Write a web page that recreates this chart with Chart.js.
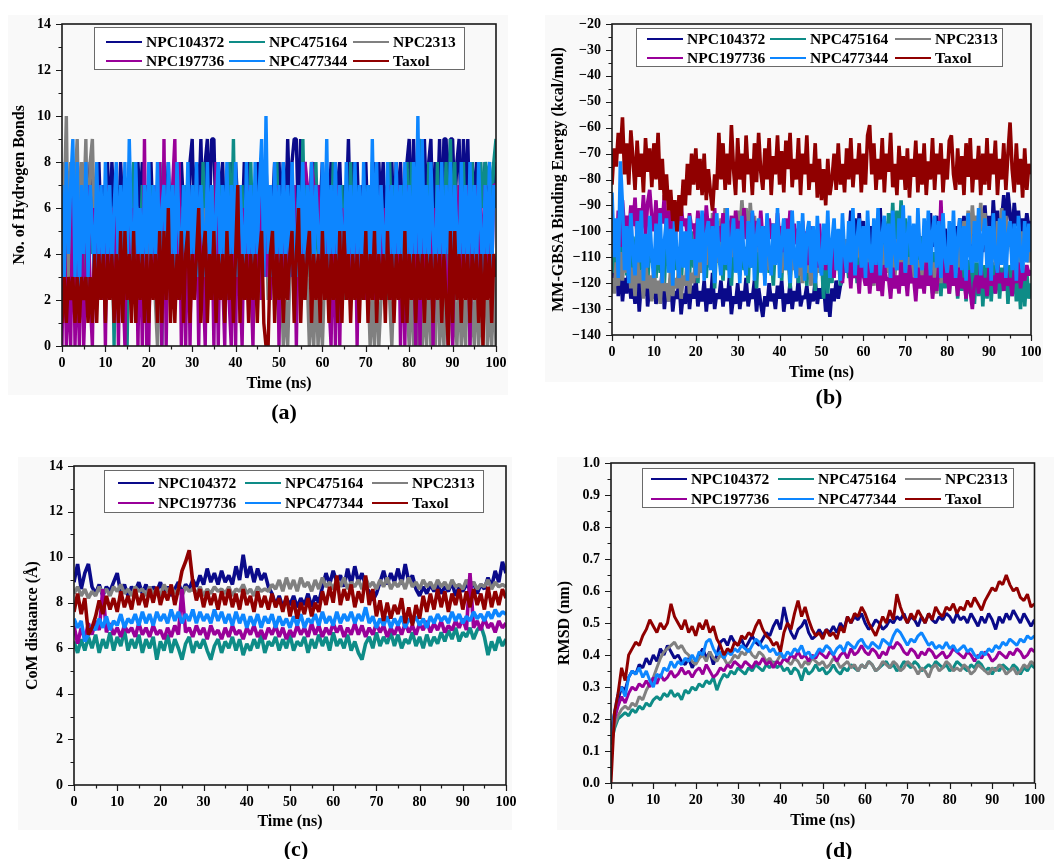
<!DOCTYPE html>
<html>
<head>
<meta charset="utf-8">
<script src="https://cdn.jsdelivr.net/npm/chart.js@4.4.0/dist/chart.umd.min.js"></script>
<style>
body { margin: 0; background: #fff; width: 1054px; height: 859px; position: relative; overflow: hidden; }
canvas, .bg { position: absolute; }
.bg { background: #f9f9f9; }
.tag { position: absolute; font: bold 22px "Liberation Serif", "Times New Roman", serif; transform: translate(-50%, -50%); color: #000; }
</style>
</head>
<body>
<div class="bg" style="left:8px;top:15px;width:500px;height:380px"></div>
<div class="bg" style="left:545px;top:15px;width:498px;height:367px"></div>
<div class="bg" style="left:18px;top:457px;width:494px;height:373px"></div>
<div class="bg" style="left:557px;top:457px;width:497px;height:373px"></div>
<canvas id="hbond" width="530" height="420" style="left:0;top:0"></canvas>
<canvas id="energy" width="524" height="420" style="left:530px;top:0"></canvas>
<canvas id="com" width="530" height="439" style="left:0;top:420px"></canvas>
<canvas id="rmsd" width="524" height="439" style="left:530px;top:420px"></canvas>
<div class="tag" style="left:284px;top:412px">(a)</div>
<div class="tag" style="left:829px;top:397px">(b)</div>
<div class="tag" style="left:296px;top:849px">(c)</div>
<div class="tag" style="left:839px;top:850px">(d)</div>
<script>
var compounds = ['NPC104372', 'NPC475164', 'NPC2313', 'NPC197736', 'NPC477344', 'Taxol'];
var colors = ['#0a0a8a', '#0e8c87', '#808080', '#990099', '#0d86ff', '#900000'];

// (a) number of hydrogen bonds, every 0.5 ns
var hb104372 = [6,8,5,7,6,8,5,7,6,8,5,7,6,8,5,7,6,8,5,7, 6,8,5,8,6,7,5,8,6,7,5,8,6,7,5,8,6,8,5,7, 6,8,5,7,6,8,5,7,6,8,5,7,6,8,5,8,6,7,5,8, 9,5,8,6,9,5,8,9,6,9,9,5,8,6,8,5,7,6,8,5, 8,6,7,5,8,6,8,5,7,6,8,5,7,6,8,5,7,6,8,5, 8,6,8,5,9,6,8,9,9,5,9,6,8,5,7,6,8,5,7,6, 8,5,7,6,8,5,8,6,8,5,7,6,9,5,8,6,8,5,7,6, 8,5,7,6,8,5,8,6,8,5,7,6,8,5,8,6,8,5,7,8, 9,5,9,6,8,9,5,9,6,8,9,5,8,6,9,5,9,9,6,9, 9,6,8,9,5,9,6,9,5,8,6,8,5,7,6,8,5,7,6,8,7];
var hb475164 = [4,7,2,6,3,8,2,6,4,7,3,6,2,7,4,6,3,7,2,6, 4,7,3,6,0,7,3,6,4,7,0,6,3,8,2,6,4,7,3,6, 2,7,4,6,3,8,0,6,4,7,2,6,3,7,4,6,3,7,2,6, 4,7,3,6,2,8,4,6,3,7,2,6,4,7,3,6,2,8,4,9, 3,6,4,7,2,6,3,8,4,6,3,7,2,6,4,7,3,6,2,8, 4,6,3,7,2,6,4,7,3,6,2,9,4,7,3,6,2,8,4,6, 3,7,2,6,4,8,3,6,4,7,2,6,3,8,4,6,3,7,2,6, 4,7,3,8,2,6,4,7,3,6,2,8,4,7,3,6,2,7,4,8, 3,8,2,6,4,9,3,7,2,8,4,6,3,8,2,7,4,8,3,9, 4,8,2,7,3,8,4,7,3,8,2,7,4,8,6,8,7,8,6,8,9];
var hb2313 = [8,6,10,3,8,2,7,9,4,8,6,9,3,8,9,5,7,3,6,2, 5,3,6,2,5,3,6,2,5,3,6,2,5,3,6,2,5,3,6,2, 5,3,6,2,0,3,6,2,5,3,6,2,5,3,6,2,5,3,6,2, 5,3,6,2,5,3,6,2,5,3,6,2,5,3,6,2,5,3,6,2, 5,3,6,2,5,3,6,2,5,3,6,2,5,3,6,2,5,3,6,2, 5,3,0,2,0,3,6,2,5,3,6,2,5,3,0,2,0,3,0,2, 0,3,6,2,5,3,6,2,5,3,6,2,5,3,6,2,5,3,6,2, 5,3,0,2,0,3,0,2,5,3,6,2,0,3,6,2,5,3,6,2, 0,3,0,2,0,6,0,2,0,3,0,2,0,5,0,2,0,3,0,6, 0,2,0,3,0,2,0,5,0,2,0,3,0,2,0,6,0,2,0,3,0];
var hb197736 = [0,6,0,3,0,7,0,4,0,6,0,3,7,2,0,6,3,7,2,6, 0,7,3,6,2,7,0,6,3,0,7,2,6,3,7,0,6,0,9,0, 0,6,3,7,2,8,0,9,0,6,3,7,9,2,8,0,6,0,7,0, 6,2,7,0,6,3,0,7,2,6,0,8,0,6,3,0,7,2,0,6, 0,7,3,0,6,2,7,3,0,6,3,7,2,6,3,7,2,6,3,7, 0,6,3,7,2,6,3,7,0,6,3,7,8,7,6,8,7,6,7,2, 6,3,7,2,0,6,0,7,0,6,3,7,2,6,3,7,0,6,3,7, 2,6,3,7,2,6,3,7,2,6,3,7,2,6,3,7,0,6,0,7, 3,6,5,0,6,0,7,3,6,2,7,0,6,3,7,2,6,3,0,7, 0,6,3,7,2,6,3,7,0,6,3,7,2,6,3,7,2,6,3,7,7];
var hb477344 = [7,3,8,4,7,9,3,8,2,7,4,8,3,7,5,3,8,4,7,3, 8,4,7,3,6,8,3,7,4,8,3,9,5,3,8,4,6,3,7,4, 8,3,7,4,8,3,6,7,3,8,4,7,3,8,5,3,7,4,8,3, 7,4,8,3,7,5,3,8,4,7,3,6,8,3,7,4,8,3,7,4, 8,3,7,5,3,8,4,7,3,8,4,7,9,3,10,4,7,3,8,4, 7,3,8,4,7,3,8,5,3,7,4,8,3,7,4,8,3,7,5,3, 8,4,9,3,7,4,8,3,7,5,3,8,4,7,3,8,4,7,3,8, 4,7,3,9,4,8,3,7,5,3,8,4,7,3,8,4,7,3,8,4, 7,3,8,4,10,3,9,4,7,3,8,5,3,7,4,8,3,7,4,8, 3,7,5,3,8,4,7,3,8,4,7,3,8,5,3,7,4,8,3,7,6];
var hbTaxol = [1,3,1,3,2,3,1,3,1,3,2,3,1,3,1,4,1,4,2,4, 1,4,2,4,1,4,1,5,1,5,2,4,1,5,1,4,2,4,1,4, 1,4,2,4,1,5,1,5,2,6,1,4,1,4,2,5,1,4,5,1, 4,2,4,6,1,4,5,1,4,2,5,1,4,2,4,1,5,2,4,1, 4,7,1,4,2,4,1,4,2,4,1,4,5,1,0,0,4,5,1,4, 2,4,1,4,2,4,5,1,4,6,1,4,2,4,5,1,4,2,4,1, 5,2,4,1,4,2,4,1,5,1,5,2,4,1,4,2,4,1,4,2, 5,1,4,2,5,1,4,2,4,1,5,2,4,1,4,2,4,1,5,1, 4,2,4,1,4,2,4,1,4,2,4,1,4,2,4,1,4,2,0,5, 1,5,2,4,1,4,2,4,1,4,2,4,1,4,0,4,2,4,1,4,3];

// (b) MM-GBSA binding energy (kcal/mol), every 0.5 ns
var be104372 = [-115,-122,-110,-125,-112,-127,-118,-124,-114,-126,-120,-128,-116,-131,-119,-125,-113,-129,-121,-126, -117,-128,-122,-124,-115,-130,-121,-127,-118,-131,-123,-126,-119,-132,-124,-128,-117,-130,-121,-126, -118,-129,-123,-127,-119,-131,-122,-128,-116,-130,-124,-126,-119,-129,-122,-127,-118,-132,-125,-128, -120,-130,-123,-127,-118,-129,-124,-126,-119,-131,-122,-128,-133,-125,-129,-120,-127,-124,-130,-121, -126,-119,-131,-124,-128,-120,-130,-123,-127,-118,-129,-125,-126,-121,-130,-124,-127,-119,-128,-122, -126,-120,-131,-124,-133,-122,-127,-119,-126,-121,-118,-112,-108,-104,-92,-110,-95,-106,-93,-108, -96,-112,-100,-110,-98,-114,-102,-108,-91,-111,-99,-113,-104,-109,-97,-112,-100,-107,-95,-110, -101,-113,-98,-109,-103,-111,-99,-108,-102,-112,-97,-110,-93,-106,-100,-94,-108,-96,-111,-99, -105,-112,-101,-108,-98,-110,-95,-107,-94,-104,-100,-109,-97,-106,-99,-111,-102,-108,-90,-104, -94,-106,-88,-101,-92,-103,-96,-86,-100,-85,-93,-102,-89,-98,-92,-105,-95,-101,-93,-99,-96];
var be475164 = [-108,-116,-100,-119,-104,-113,-98,-117,-106,-120,-102,-114,-109,-118,-101,-115,-107,-121,-103,-112, -110,-118,-100,-116,-105,-120,-102,-113,-108,-119,-101,-115,-106,-121,-103,-112,-109,-117,-100,-114, -107,-120,-102,-116,-110,-118,-101,-114,-106,-122,-103,-112,-109,-119,-100,-115,-107,-121,-104,-113, -110,-117,-101,-115,-106,-120,-102,-114,-108,-122,-103,-113,-109,-118,-100,-116,-107,-121,-104,-112, -110,-119,-101,-115,-106,-122,-103,-114,-108,-120,-102,-113,-109,-121,-104,-116,-107,-123,-103,-114, -110,-126,-104,-124,-108,-120,-102,-115,-107,-121,-103,-113,-109,-118,-101,-116,-106,-120,-104,-112, -108,-117,-101,-115,-105,-119,-102,-113,-107,-118,-96,-112,-93,-108,-89,-110,-92,-106,-88,-109, -95,-113,-99,-116,-103,-120,-105,-118,-102,-122,-107,-119,-104,-124,-108,-121,-106,-125,-110,-122, -107,-124,-109,-121,-105,-126,-110,-123,-106,-127,-111,-124,-108,-128,-112,-125,-109,-129,-113,-126, -110,-127,-112,-124,-108,-126,-114,-123,-109,-128,-113,-125,-111,-127,-115,-130,-112,-129,-116,-126,-120];
var be2313 = [-118,-124,-112,-121,-108,-119,-104,-116,-110,-122,-114,-125,-109,-120,-115,-126,-111,-122,-117,-127, -113,-124,-119,-128,-115,-123,-120,-127,-114,-125,-118,-122,-112,-126,-117,-121,-110,-124,-116,-120, -108,-118,-104,-116,-100,-113,-96,-110,-93,-106,-98,-112,-95,-108,-91,-104,-96,-110,-94,-106, -92,-103,-88,-100,-91,-106,-89,-102,-94,-108,-97,-112,-100,-110,-104,-115,-106,-113,-102,-111, -108,-116,-104,-114,-110,-118,-106,-115,-109,-117,-112,-120,-108,-116,-111,-121,-107,-118,-110,-116, -106,-114,-102,-112,-108,-116,-104,-113,-100,-111,-106,-115,-103,-112,-107,-117,-102,-110,-105,-114, -108,-116,-104,-119,-110,-121,-106,-117,-111,-120,-105,-116,-109,-122,-107,-118,-103,-115,-108,-119, -104,-116,-110,-120,-106,-118,-111,-121,-107,-119,-104,-117,-109,-122,-112,-124,-110,-120,-108,-118, -113,-124,-109,-121,-104,-116,-100,-112,-96,-108,-92,-105,-90,-101,-94,-103,-89,-100,-93,-106, -98,-110,-102,-113,-96,-108,-91,-104,-94,-106,-99,-111,-103,-114,-106,-112,-100,-110,-104,-112,-108];
var be197736 = [-105,-96,-110,-92,-106,-88,-100,-94,-102,-90,-98,-87,-104,-91,-99,-86,-102,-89,-84,-95, -100,-88,-104,-91,-97,-86,-103,-92,-99,-89,-105,-94,-100,-90,-98,-95,-102,-93,-99,-97, -104,-92,-101,-96,-106,-90,-100,-95,-103,-91,-107,-98,-104,-93,-108,-99,-102,-94,-106,-92, -100,-96,-105,-91,-103,-97,-108,-93,-101,-96,-106,-92,-104,-98,-109,-95,-103,-97,-107,-93, -102,-98,-108,-95,-104,-92,-110,-97,-105,-99,-112,-96,-107,-100,-113,-98,-106,-101,-114,-97, -108,-103,-115,-100,-112,-106,-118,-104,-113,-109,-120,-107,-116,-111,-122,-108,-118,-113,-124,-110, -117,-121,-112,-124,-115,-120,-110,-123,-116,-125,-113,-119,-118,-126,-114,-122,-117,-124,-112,-121, -116,-125,-113,-120,-118,-127,-114,-122,-117,-124,-112,-121,-115,-126,-118,-123,-113,-88,-110,-120, -116,-124,-113,-121,-117,-125,-114,-122,-118,-126,-115,-123,-130,-120,-117,-124,-113,-122,-118,-125, -114,-121,-117,-124,-112,-120,-116,-123,-113,-121,-118,-125,-115,-120,-112,-122,-116,-119,-113,-117,-115];
var be477344 = [-85,-110,-95,-118,-73,-90,-115,-98,-120,-93,-108,-117,-96,-112,-92,-119,-101,-114,-94,-110, -118,-97,-113,-93,-120,-104,-95,-116,-99,-121,-92,-110,-118,-96,-114,-100,-119,-94,-111,-103, -117,-95,-112,-92,-119,-101,-96,-115,-98,-120,-93,-109,-117,-97,-113,-91,-118,-104,-95,-116, -99,-120,-94,-111,-117,-96,-114,-92,-119,-102,-95,-116,-98,-121,-93,-108,-117,-97,-113,-91, -118,-103,-95,-115,-99,-120,-92,-110,-118,-96,-114,-93,-119,-101,-96,-116,-98,-120,-94,-111, -117,-97,-113,-92,-118,-104,-95,-115,-99,-119,-93,-109,-116,-96,-112,-91,-117,-103,-95,-114, -98,-118,-92,-110,-116,-95,-113,-91,-117,-101,-94,-114,-97,-118,-92,-108,-115,-95,-111,-90, -116,-102,-94,-113,-97,-118,-91,-109,-115,-95,-112,-92,-117,-100,-94,-114,-96,-118,-93,-110, -116,-96,-113,-92,-118,-103,-95,-115,-98,-119,-93,-109,-116,-96,-112,-91,-117,-102,-95,-114, -98,-119,-93,-110,-116,-95,-113,-92,-118,-101,-96,-115,-97,-119,-94,-109,-116,-96,-112,-97,-108];
var beTaxol = [-82,-68,-75,-62,-70,-56,-78,-66,-82,-61,-72,-84,-65,-79,-70,-85,-64,-77,-68,-83, -66,-80,-62,-84,-72,-88,-78,-92,-84,-96,-88,-100,-86,-94,-80,-90,-74,-86,-70,-82, -68,-84,-72,-86,-70,-88,-76,-85,-92,-78,-84,-62,-80,-66,-84,-70,-82,-59,-76,-86, -64,-80,-70,-85,-63,-78,-72,-86,-66,-81,-62,-77,-84,-68,-80,-64,-86,-71,-78,-63, -82,-69,-85,-65,-76,-62,-83,-72,-80,-64,-86,-70,-78,-63,-84,-74,-81,-66,-87,-72, -88,-76,-90,-72,-86,-80,-70,-84,-66,-82,-74,-85,-68,-80,-64,-83,-72,-78,-66,-85, -70,-82,-63,-59,-78,-66,-84,-72,-80,-64,-85,-70,-77,-62,-83,-74,-86,-67,-80,-71, -84,-68,-87,-72,-79,-65,-85,-70,-82,-66,-86,-73,-80,-64,-84,-70,-78,-66,-85,-72, -80,-65,-63,-78,-84,-68,-82,-71,-86,-66,-79,-64,-85,-72,-80,-67,-86,-70,-82,-64, -84,-70,-78,-65,-86,-72,-80,-66,-84,-70,-58,-76,-85,-66,-82,-72,-87,-68,-84,-74,-78];

// (c) centre-of-mass distance (Å), 121 frames over 100 ns
var com104372 = [8.9,9.7,8.6,9.3,9.7,8.7,8.4,8.8,8.3,8.7,8.5,8.9,9.3,8.4,8.8,8.3,8.7,8.5,8.9,8.4, 8.8,8.3,8.7,8.5,8.9,8.4,8.7,8.3,8.6,8.9,8.4,8.8,8.6,9.0,8.7,9.2,8.8,9.5,8.9,9.3, 8.8,9.4,8.9,9.2,8.8,9.6,9.0,10.1,9.1,9.6,8.9,9.5,9.0,9.3,8.7,8.4,7.9,8.3,7.8,8.2, 7.9,8.3,7.8,8.2,7.9,8.4,7.8,8.3,8.0,8.7,9.3,8.8,9.4,8.9,9.2,8.7,9.5,8.8,9.6,8.9, 9.3,8.7,8.5,8.1,8.4,8.9,9.4,8.8,9.3,8.9,9.5,8.8,9.7,8.9,9.2,8.6,8.3,8.7,8.4,8.8, 8.5,8.8,8.4,8.7,8.5,8.9,8.3,8.7,8.5,8.8,8.6,8.9,8.4,8.8,8.6,9.1,8.7,9.4,8.9,9.8,9.3];
var com475164 = [6.3,5.8,6.4,5.9,6.5,6.0,6.6,5.8,6.4,6.0,6.7,5.9,6.5,6.1,6.8,5.9,6.4,6.0,6.6,5.8, 6.4,6.0,6.5,5.5,6.3,5.9,6.6,5.8,6.4,6.0,5.5,6.2,6.5,5.8,6.3,6.0,6.4,5.9,5.5,6.1, 6.4,5.8,6.3,6.0,6.5,5.9,6.4,5.7,6.2,5.9,6.4,6.0,6.6,5.8,6.3,6.1,6.5,5.9,6.4,6.0, 6.6,5.9,6.3,6.1,6.5,5.8,6.4,6.0,6.6,6.1,6.5,5.9,6.7,6.1,6.4,6.0,6.6,5.9,6.3,5.8, 5.5,6.2,6.5,6.0,6.7,6.1,6.5,6.2,6.7,6.1,6.6,6.0,6.4,6.2,6.7,6.1,6.5,6.0,6.6,6.1, 6.5,6.2,6.7,6.3,6.8,6.4,6.9,6.3,6.7,6.5,6.9,6.4,6.8,7.0,6.5,5.7,6.3,5.9,6.5,6.1,6.4];
var com2313 = [8.4,8.7,8.3,8.6,8.2,8.5,8.3,8.7,8.4,8.6,8.3,8.7,8.5,8.8,8.4,8.6,8.3,8.7,8.5,8.6, 8.3,8.7,8.4,8.6,8.3,8.8,8.5,8.7,8.4,8.6,8.3,8.7,8.5,8.6,8.4,8.7,8.3,8.6,8.4,8.7, 8.5,8.6,8.4,8.7,8.3,8.6,8.5,8.8,8.4,8.6,8.3,8.7,8.5,8.6,8.5,8.8,8.6,9.0,8.5,9.1, 8.6,9.0,8.5,9.1,8.7,8.9,8.5,9.0,8.6,9.1,8.7,8.9,8.6,9.0,8.7,9.1,8.6,8.9,8.7,9.0, 8.6,9.1,8.7,8.9,8.6,9.0,8.7,9.1,8.6,8.9,8.7,9.0,8.6,9.1,8.7,8.9,8.6,9.0,8.7,8.9, 8.6,9.0,8.7,8.9,8.6,9.0,8.7,8.8,8.6,9.0,8.7,8.9,8.6,8.8,8.7,9.0,8.6,8.9,8.7,8.8,8.7];
var com197736 = [7.0,6.2,6.9,6.4,7.1,6.6,7.2,6.8,8.6,6.7,7.1,6.6,6.9,6.5,7.0,6.7,6.9,6.5,7.1,6.6, 6.9,6.5,7.0,6.6,6.8,6.4,6.9,6.5,7.0,6.6,8.6,6.7,6.9,6.5,7.0,6.6,6.9,6.4,7.0,6.6, 6.8,6.4,6.9,6.5,7.0,6.6,6.8,6.4,6.9,6.6,7.0,6.5,6.8,6.4,6.9,6.6,7.0,6.5,6.9,6.4, 6.8,6.5,7.0,6.6,6.9,6.5,7.1,6.6,7.0,6.5,6.9,6.6,7.1,6.7,7.0,6.5,6.9,6.6,7.1,6.6, 7.0,6.5,6.9,6.6,7.1,6.7,7.0,6.5,6.9,6.6,7.0,6.6,7.1,6.7,7.0,6.6,7.1,6.8,7.2,6.7, 7.1,6.8,7.2,6.7,7.0,6.8,7.2,6.9,7.3,6.8,9.3,6.9,7.2,6.8,7.3,6.9,7.1,6.7,7.2,6.9,7.1];
var com477344 = [7.3,6.9,7.2,6.3,6.6,7.0,6.8,7.3,6.9,7.4,6.8,7.2,7.0,7.5,6.9,7.3,7.1,7.5,7.0,7.6, 7.1,7.5,7.0,7.6,7.2,7.5,7.1,7.7,7.2,7.6,7.1,7.5,7.2,7.7,7.1,7.6,7.2,7.5,7.1,7.7, 7.2,7.6,7.1,7.5,7.0,7.6,7.1,7.5,6.9,7.4,7.0,7.5,6.9,7.4,7.1,7.5,6.9,7.4,7.0,7.3, 6.9,7.4,7.0,7.5,6.9,7.3,7.1,7.5,7.0,7.6,7.1,7.4,7.0,7.6,7.1,7.5,7.2,7.6,7.1,7.5, 7.2,7.8,7.1,7.4,6.9,7.3,7.0,7.4,6.9,7.3,7.0,7.4,6.9,7.3,7.1,7.4,7.0,7.3,6.9,7.4, 7.1,7.5,7.2,7.4,7.1,7.6,7.2,7.5,7.1,7.4,7.2,7.6,7.3,7.5,7.2,7.6,7.3,7.7,7.4,7.6,7.5];
var comTaxol = [7.6,8.4,7.5,8.2,6.6,6.9,7.4,8.1,7.5,8.3,7.7,8.2,7.6,8.5,7.8,8.3,7.7,8.6,7.9,8.4, 7.8,8.6,8.0,8.7,7.9,8.5,8.1,8.8,7.9,8.6,9.4,9.8,10.3,8.9,8.1,8.6,7.8,8.5,7.9,8.4, 7.7,8.5,7.9,8.6,7.8,8.4,7.7,8.6,7.9,8.3,7.6,8.5,7.8,8.3,7.7,8.4,7.8,8.2,7.6,8.3, 7.4,8.1,7.3,8.0,7.5,8.2,7.4,8.0,7.6,8.5,7.9,8.7,8.0,9.2,7.9,8.6,8.1,8.8,7.8,8.5, 8.0,9.2,7.9,8.6,7.4,8.1,7.2,8.0,7.3,7.9,7.5,8.2,7.1,7.8,7.0,7.9,7.3,8.3,7.6,8.4, 7.7,8.6,7.8,8.5,7.6,8.4,7.9,8.6,7.7,8.5,7.8,8.6,7.9,8.4,7.7,8.7,7.8,8.5,7.9,8.6,8.2];

// (d) RMSD (nm), 121 frames over 100 ns
var rmsd104372 = [0.15,0.22,0.26,0.30,0.29,0.33,0.35,0.34,0.37,0.36,0.39,0.37,0.40,0.38,0.42,0.40,0.43,0.41,0.39,0.40, 0.38,0.37,0.39,0.36,0.38,0.40,0.42,0.39,0.41,0.37,0.40,0.44,0.45,0.43,0.46,0.44,0.43,0.45,0.42,0.44, 0.46,0.44,0.43,0.45,0.47,0.46,0.49,0.51,0.48,0.55,0.50,0.47,0.45,0.48,0.49,0.51,0.47,0.45,0.46,0.48, 0.46,0.48,0.47,0.49,0.47,0.50,0.48,0.52,0.50,0.52,0.51,0.53,0.50,0.48,0.49,0.51,0.50,0.48,0.49,0.51, 0.50,0.52,0.51,0.53,0.50,0.52,0.51,0.49,0.52,0.50,0.53,0.51,0.50,0.52,0.51,0.53,0.52,0.50,0.53,0.51, 0.52,0.50,0.53,0.51,0.49,0.52,0.50,0.53,0.51,0.48,0.52,0.50,0.53,0.51,0.54,0.52,0.50,0.53,0.51,0.49,0.51];
var rmsd475164 = [0.12,0.17,0.20,0.21,0.22,0.21,0.23,0.22,0.24,0.23,0.25,0.24,0.26,0.27,0.26,0.28,0.27,0.29,0.27,0.28, 0.26,0.29,0.28,0.30,0.29,0.31,0.30,0.32,0.31,0.33,0.29,0.32,0.34,0.33,0.35,0.34,0.36,0.35,0.34,0.36, 0.35,0.37,0.36,0.35,0.37,0.36,0.38,0.36,0.37,0.35,0.36,0.34,0.36,0.35,0.32,0.36,0.34,0.35,0.37,0.35, 0.36,0.34,0.35,0.37,0.35,0.34,0.36,0.35,0.37,0.36,0.35,0.37,0.36,0.38,0.37,0.35,0.36,0.37,0.38,0.36, 0.37,0.35,0.36,0.38,0.37,0.36,0.38,0.37,0.35,0.36,0.37,0.36,0.38,0.37,0.36,0.37,0.35,0.36,0.38,0.37, 0.36,0.35,0.37,0.36,0.38,0.37,0.35,0.36,0.34,0.36,0.35,0.37,0.36,0.35,0.37,0.36,0.34,0.36,0.35,0.37,0.36];
var rmsd2313 = [0.14,0.18,0.21,0.23,0.24,0.23,0.25,0.24,0.27,0.26,0.29,0.31,0.33,0.36,0.39,0.41,0.42,0.43,0.44,0.42, 0.43,0.41,0.40,0.38,0.37,0.39,0.40,0.38,0.41,0.39,0.38,0.40,0.39,0.37,0.38,0.40,0.39,0.41,0.40,0.42, 0.40,0.39,0.41,0.40,0.38,0.39,0.37,0.38,0.40,0.39,0.38,0.37,0.39,0.38,0.36,0.38,0.37,0.39,0.38,0.37, 0.38,0.36,0.37,0.39,0.38,0.36,0.37,0.38,0.36,0.37,0.35,0.37,0.36,0.38,0.37,0.35,0.36,0.38,0.37,0.36, 0.38,0.37,0.35,0.36,0.38,0.37,0.36,0.34,0.36,0.35,0.33,0.36,0.37,0.35,0.36,0.38,0.37,0.35,0.36,0.35, 0.37,0.36,0.34,0.35,0.37,0.36,0.35,0.34,0.36,0.35,0.37,0.36,0.34,0.35,0.36,0.34,0.35,0.37,0.36,0.38,0.37];
var rmsd197736 = [0.14,0.20,0.24,0.27,0.25,0.28,0.30,0.29,0.31,0.30,0.32,0.30,0.33,0.31,0.34,0.32,0.33,0.35,0.33,0.34, 0.36,0.34,0.35,0.33,0.35,0.36,0.34,0.37,0.35,0.33,0.34,0.36,0.35,0.37,0.36,0.38,0.37,0.36,0.38,0.37, 0.36,0.38,0.37,0.39,0.37,0.38,0.36,0.38,0.37,0.39,0.38,0.40,0.39,0.41,0.39,0.40,0.38,0.40,0.39,0.41, 0.40,0.39,0.41,0.40,0.38,0.40,0.41,0.39,0.42,0.40,0.41,0.43,0.41,0.40,0.42,0.41,0.39,0.41,0.40,0.43, 0.42,0.44,0.43,0.41,0.40,0.42,0.41,0.39,0.41,0.40,0.42,0.41,0.39,0.40,0.41,0.39,0.40,0.42,0.41,0.40, 0.39,0.41,0.40,0.38,0.40,0.39,0.41,0.40,0.38,0.39,0.41,0.40,0.39,0.41,0.40,0.42,0.41,0.39,0.40,0.42,0.41];
var rmsd477344 = [0.14,0.22,0.28,0.30,0.27,0.33,0.35,0.34,0.36,0.33,0.35,0.32,0.30,0.34,0.33,0.36,0.35,0.38,0.36,0.38, 0.37,0.39,0.38,0.40,0.38,0.41,0.40,0.44,0.45,0.42,0.40,0.41,0.39,0.41,0.40,0.42,0.41,0.43,0.42,0.41, 0.43,0.45,0.44,0.42,0.43,0.41,0.42,0.40,0.41,0.39,0.41,0.40,0.42,0.41,0.43,0.40,0.41,0.39,0.40,0.42, 0.41,0.43,0.42,0.40,0.42,0.43,0.41,0.44,0.43,0.42,0.44,0.45,0.43,0.42,0.44,0.43,0.42,0.45,0.44,0.43, 0.46,0.48,0.47,0.45,0.43,0.45,0.44,0.46,0.47,0.45,0.43,0.44,0.42,0.43,0.42,0.44,0.42,0.43,0.41,0.42, 0.43,0.41,0.42,0.40,0.39,0.41,0.40,0.42,0.41,0.43,0.42,0.44,0.43,0.45,0.44,0.43,0.45,0.44,0.46,0.45,0.46];
var rmsdTaxol = [0.00,0.22,0.28,0.36,0.32,0.40,0.42,0.44,0.43,0.46,0.48,0.51,0.49,0.47,0.50,0.48,0.50,0.56,0.52,0.50, 0.48,0.51,0.47,0.49,0.46,0.50,0.48,0.51,0.47,0.49,0.45,0.43,0.40,0.42,0.41,0.44,0.43,0.46,0.45,0.47, 0.46,0.49,0.51,0.48,0.46,0.45,0.43,0.44,0.41,0.47,0.50,0.48,0.53,0.57,0.52,0.55,0.51,0.48,0.46,0.47, 0.45,0.48,0.46,0.47,0.45,0.49,0.47,0.52,0.50,0.53,0.52,0.55,0.53,0.50,0.48,0.46,0.49,0.52,0.50,0.54, 0.51,0.59,0.55,0.52,0.50,0.53,0.51,0.54,0.52,0.50,0.53,0.51,0.55,0.53,0.52,0.55,0.54,0.56,0.53,0.55, 0.54,0.57,0.55,0.58,0.56,0.54,0.57,0.59,0.61,0.60,0.63,0.62,0.65,0.62,0.60,0.61,0.58,0.57,0.59,0.55,0.56];

var serif = '"Liberation Serif", "Times New Roman", serif';

// spread a series evenly over the 0-100 ns run
function points(vals) {
    return vals.map(function (v, i) { return { x: i * 100 / (vals.length - 1), y: v }; });
}

function framePlugin(o) {
    return {
        id: 'frame',
        afterDraw: function (chart) {
            var ctx = chart.ctx, a = chart.chartArea;
            var xs = chart.scales.x, ys = chart.scales.y;
            ctx.save();
            ctx.strokeStyle = '#1a1a1a';
            ctx.lineWidth = 1.2;
            ctx.beginPath();
            for (var k = 0; k <= 20; k++) {
                var px = Math.round(xs.getPixelForValue(k * 5)) + 0.5;
                ctx.moveTo(px, a.bottom);
                ctx.lineTo(px, a.bottom + (k % 2 === 0 ? 6 : 3.5));
            }
            var m = Math.round((o.ymax - o.ymin) / o.yminor);
            for (k = 0; k <= m; k++) {
                var py = Math.round(ys.getPixelForValue(o.ymin + k * o.yminor)) + 0.5;
                ctx.moveTo(a.left, py);
                ctx.lineTo(a.left - (k % 2 === 0 ? 6 : 3.5), py);
            }
            ctx.stroke();
            ctx.lineWidth = 1.6;
            ctx.strokeRect(a.left, a.top, a.right - a.left, a.bottom - a.top);

            var L = o.legend;
            ctx.fillStyle = '#ffffff';
            ctx.fillRect(L.box[0], L.box[1], L.box[2] - L.box[0], L.box[3] - L.box[1]);
            ctx.strokeStyle = '#6a6a6a';
            ctx.lineWidth = 1;
            ctx.strokeRect(L.box[0] + 0.5, L.box[1] + 0.5, L.box[2] - L.box[0], L.box[3] - L.box[1]);
            ctx.font = 'bold 15.5px ' + serif;
            ctx.textBaseline = 'middle';
            ctx.textAlign = 'left';
            chart.data.datasets.forEach(function (ds, i) {
                var cx = L.cols[i % 3], cy = L.rows[Math.floor(i / 3)];
                ctx.strokeStyle = ds.borderColor;
                ctx.lineWidth = 2;
                ctx.beginPath();
                ctx.moveTo(cx, cy);
                ctx.lineTo(cx + 36, cy);
                ctx.stroke();
                ctx.fillStyle = '#000';
                ctx.fillText(ds.label, cx + 40, cy + 1);
            });
            ctx.restore();
        }
    };
}

function panel(id, series, o) {
    var cv = document.getElementById(id);
    var W = cv.width, H = cv.height;
    var tickFont = { family: serif, size: 14, weight: 'bold' };
    var titleFont = { family: serif, size: 16, weight: 'bold' };
    new Chart(cv, {
        type: 'line',
        data: {
            datasets: series.map(function (s, i) {
                return {
                    label: compounds[i],
                    data: points(s),
                    borderColor: colors[i],
                    borderWidth: o.lw,
                    borderJoinStyle: 'bevel',
                    pointRadius: 0,
                    fill: false,
                    order: series.length - i
                };
            })
        },
        options: {
            responsive: false,
            animation: false,
            events: [],
            layout: { padding: { left: 0, top: o.area[1], right: W - o.area[2], bottom: 0 } },
            plugins: { legend: { display: false }, tooltip: { enabled: false } },
            scales: {
                x: {
                    type: 'linear', min: 0, max: 100,
                    afterFit: function (s) { s.height = H - o.area[3]; },
                    grid: { display: false, drawTicks: false },
                    border: { display: false },
                    ticks: { stepSize: 10, padding: 9, color: '#000', font: tickFont, maxRotation: 0, autoSkip: false },
                    title: { display: true, text: 'Time (ns)', color: '#000', font: titleFont, padding: { top: 0, bottom: o.xTitle } }
                },
                y: {
                    type: 'linear', min: o.ymin, max: o.ymax,
                    afterFit: function (s) { s.width = o.area[0]; },
                    grid: { display: false, drawTicks: false },
                    border: { display: false },
                    ticks: { stepSize: o.ystep, padding: 11, color: '#000', font: tickFont, autoSkip: false, callback: o.fmt },
                    title: { display: true, text: o.ytitle, color: '#000', font: titleFont, padding: { top: o.yTitle, bottom: 0 } }
                }
            }
        },
        plugins: [framePlugin(o)]
    });
}

panel('hbond', [hb104372, hb475164, hb2313, hb197736, hb477344, hbTaxol], {
    area: [62, 24, 496, 346], ymin: 0, ymax: 14, ystep: 2, yminor: 1, lw: 3.4,
    ytitle: 'No. of Hydrogen Bonds', xTitle: 27, yTitle: 10,
    fmt: function (v) { return String(v); },
    legend: { box: [94, 27, 464, 69], cols: [106, 229, 353], rows: [42, 61] }
});
panel('energy', [be104372, be475164, be2313, be197736, be477344, beTaxol], {
    area: [82, 24, 501, 335], ymin: -140, ymax: -20, ystep: 10, yminor: 5, lw: 3.6,
    ytitle: 'MM-GBSA Binding Energy (kcal/mol)', xTitle: 38, yTitle: 19,
    fmt: function (v) { return String(v).replace('-', '\u2212'); },
    legend: { box: [106, 28, 472, 66], cols: [117, 240, 365], rows: [39, 58] }
});
panel('com', [com104372, com475164, com2313, com197736, com477344, comTaxol], {
    area: [74, 46, 506, 365], ymin: 0, ymax: 14, ystep: 2, yminor: 1, lw: 3.6,
    ytitle: 'CoM distaance (\u00c5)', xTitle: 28, yTitle: 23,
    fmt: function (v) { return String(v); },
    legend: { box: [104, 50, 483, 92], cols: [118, 245, 372], rows: [63, 83] }
});
panel('rmsd', [rmsd104372, rmsd475164, rmsd2313, rmsd197736, rmsd477344, rmsdTaxol], {
    area: [81, 43, 512, 363], ymin: 0, ymax: 1, ystep: 0.1, yminor: 0.05, lw: 3,
    ytitle: 'RMSD (nm)', xTitle: 29, yTitle: 25,
    fmt: function (v) { return v.toFixed(1); },
    legend: { box: [112, 48, 483, 87], cols: [121, 248, 375], rows: [59, 79] }
});
</script>
</body>
</html>
